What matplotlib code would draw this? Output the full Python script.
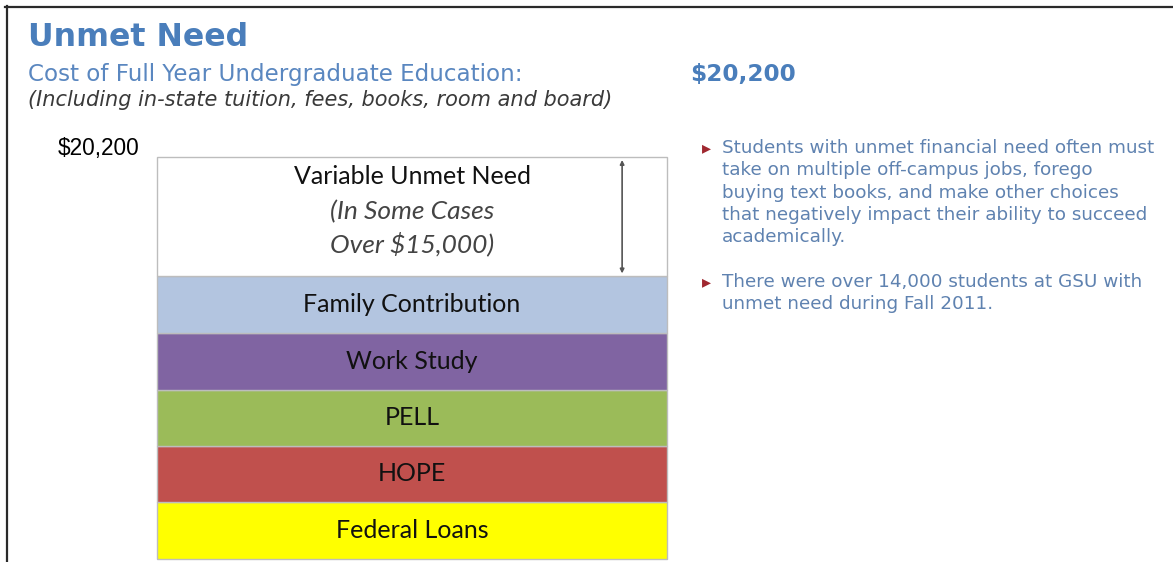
import matplotlib
matplotlib.use("Agg")
import matplotlib.pyplot as plt
from matplotlib.lines import Line2D

# ---- data ----
segments = ["Federal Loans", "HOPE", "PELL", "Work Study", "Family Contribution", "Variable Unmet Need"]
amounts = [2850, 2850, 2800, 2850, 2850, 6000]   # approx. share of the $20,200 total
seg_colors = ["#FFFF00", "#C0504D", "#9BBB59", "#8064A2", "#B3C5E0", "#FFFFFF"]
total_label = "$20,200"
unmet_sub = ["(In Some Cases", "Over $15,000)"]
title = "Unmet Need"
subtitle = "Cost of Full Year Undergraduate Education:"
subtitle2 = "(Including in-state tuition, fees, books, room and board)"
bullets = [
    ["Students with unmet financial need often must",
     "take on multiple off-campus jobs, forego",
     "buying text books, and make other choices",
     "that negatively impact their ability to succeed",
     "academically."],
    ["There were over 14,000 students at GSU with",
     "unmet need during Fall 2011."],
]

W, H = 1173, 562
fig = plt.figure(figsize=(W / 100, H / 100), dpi=100)
fig.patch.set_facecolor("white")

def fx(x):
    return x / W

def fy(y):
    return 1 - y / H

# frame lines (top and left)
fig.add_artist(Line2D([fx(5), fx(1173)], [fy(6.5), fy(6.5)], color="#2a2a2a", lw=1.6))
fig.add_artist(Line2D([fx(6.5), fx(6.5)], [fy(6), fy(562)], color="#2a2a2a", lw=1.6))

# header texts
fig.text(fx(28), fy(38), title, fontsize=22.8, fontweight="bold", color="#4A7EBB",
         family="DejaVu Sans", va="center", ha="left")
fig.text(fx(28), fy(74), subtitle, fontsize=16.6, color="#5A87C0",
         family="DejaVu Sans", va="center", ha="left")
fig.text(fx(690), fy(74), total_label, fontsize=16.7, fontweight="bold", color="#4A7EBB",
         family="DejaVu Sans", va="center", ha="left")
fig.text(fx(28), fy(100), subtitle2, fontsize=15.0, style="italic", color="#3a3a3a",
         family="DejaVu Sans", va="center", ha="left")
fig.text(fx(139), fy(148), total_label, fontsize=16.3, color="black",
         family="Liberation Sans", va="center", ha="right")

# stacked bar
left, right, top, bottom = 157, 667, 157, 559
ax = fig.add_axes([fx(left), fy(bottom), (right - left) / W, (bottom - top) / H])
bottoms = []
acc = 0
for a in amounts:
    bottoms.append(acc)
    acc += a
bars = ax.bar(0, amounts, bottom=bottoms, width=1, color=seg_colors,
              edgecolor="#BDBDBD", linewidth=1.0, clip_on=False)
ax.set_xlim(-0.5, 0.5)
ax.set_ylim(0, acc)
ax.axis("off")

lab_font = "Lato"
for i, (name, a, b) in enumerate(zip(segments, amounts, bottoms)):
    if name == "Variable Unmet Need":
        continue
    ax.text(0, b + a / 2, name, ha="center", va="center", fontsize=18,
            family=lab_font, color="#111111")

# unmet need texts
ub = bottoms[-1]
ua = amounts[-1]
ax.text(0, ub + ua * 0.835, segments[-1], ha="center", va="center", fontsize=18,
        family=lab_font, color="#111111")
ax.text(0, ub + ua * 0.545, unmet_sub[0], ha="center", va="center", fontsize=19,
        family=lab_font, style="italic", color="#444444")
ax.text(0, ub + ua * 0.27, unmet_sub[1], ha="center", va="center", fontsize=19,
        family=lab_font, style="italic", color="#444444")
ax.annotate("", xy=(0.412, acc - 150), xytext=(0.412, ub + 150),
            arrowprops=dict(arrowstyle="<|-|>", color="#555555", lw=1.2,
                            mutation_scale=6, shrinkA=0, shrinkB=0))

# bullets
y = 148
for blk in bullets:
    fig.text(fx(702), fy(y), "\u25B8", fontsize=13, color="#A02830",
             family="DejaVu Sans", va="center", ha="left")
    for line in blk:
        fig.text(fx(722), fy(y), line, fontsize=13.2, color="#5F82B0",
                 family="DejaVu Sans", va="center", ha="left")
        y += 22.3
    y += 22.3

fig.savefig("out.png", dpi=100)
